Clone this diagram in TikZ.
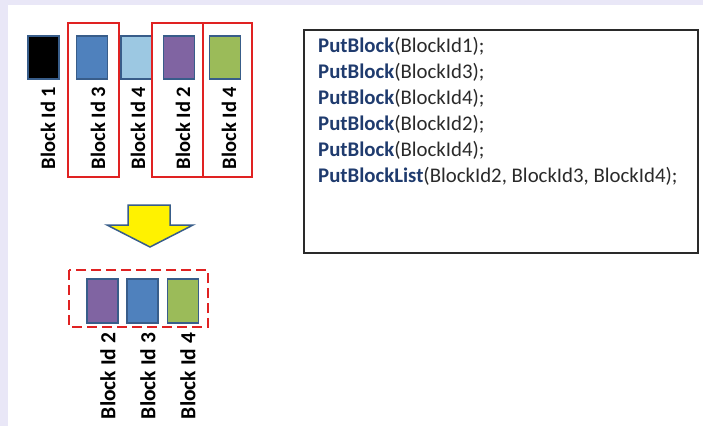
\documentclass[tikz,border=0pt]{standalone}
\usepackage{fontspec}
\setmainfont{Carlito}
\usetikzlibrary{positioning}
\definecolor{lav}{HTML}{E9E7F7}
\definecolor{bordc}{HTML}{385D8A}
\definecolor{cblack}{HTML}{000000}
\definecolor{cblue}{HTML}{4F81BD}
\definecolor{clblue}{HTML}{9CC8E2}
\definecolor{cpurple}{HTML}{8064A2}
\definecolor{cgreen}{HTML}{9BBB59}
\definecolor{rred}{HTML}{E02222}
\definecolor{navy}{HTML}{1F3B6E}
\definecolor{codegray}{HTML}{2A2A2A}
\tikzset{
  blk/.style={draw=bordc, line width=1.6pt, inner sep=0pt, minimum width=31pt, minimum height=43pt},
  lbl/.style={rotate=90, inner sep=0pt, font=\fontsize{20.5}{24}\selectfont\bfseries},
  lblb/.style={rotate=90, inner sep=0pt, font=\fontsize{21.5}{24}\selectfont\bfseries},
  redbox/.style={draw=rred, line width=2pt},
  dashbox/.style={draw=rred, line width=2.5pt, dash pattern=on 10pt off 5pt},
  codeline/.style={anchor=base west, inner sep=0pt, text=codegray, font=\fontsize{20.8}{24}\selectfont},
}
\newcommand{\kw}[1]{\textcolor{navy}{\bfseries #1}}
\begin{document}
\begin{tikzpicture}[x=1pt,y=-1pt]
\useasboundingbox (0,0) rectangle (703,426);
\fill[white] (0,0) rectangle (703,426);
\fill[lav] (0,0) rectangle (703,5);
\fill[lav] (0,0) rectangle (8,426);

% top row blocks
\node[blk, fill=cblack] (b1) at (43.5,57.5) {};
\node[blk, fill=cblue] (b3) at (92,57.5) {};
\node[blk, fill=clblue] (b4) at (136.5,57.5) {};
\node[blk, fill=cpurple] (b2) at (179,57.5) {};
\node[blk, fill=cgreen] (b4b) at (225,57.5) {};

% top labels
\node[lbl] (l1) at (48,128) {Block Id 1};
\node[lbl] (l3) at (98,128) {Block Id 3};
\node[lbl] (l4) at (138,128) {Block Id 4};
\node[lbl] (l2) at (183,128) {Block Id 2};
\node[lbl] (l4b) at (229,128) {Block Id 4};

% red boxes
\draw[redbox] (68,23) rectangle (119,177);
\draw[redbox] (152,23) rectangle (203,177);
\draw[redbox] (203,23) rectangle (252,177);

% yellow arrow
\draw[fill=yellow, draw=bordc, line width=1.5pt, line join=miter]
  (128,205) -- (170,205) -- (170,225) -- (193,225) -- (150,247) -- (107,225) -- (128,225) -- cycle;

% bottom blocks
\node[blk, fill=cpurple, minimum height=44pt] (m2) at (102.5,301) {};
\node[blk, fill=cblue, minimum height=44pt] (m3) at (142.5,301) {};
\node[blk, fill=cgreen, minimum height=44pt] (m4) at (183,301) {};
\draw[dashbox] (69,270) rectangle (208,327);

% bottom labels
\node[lblb] (n2) at (108,376) {Block Id 2};
\node[lblb] (n3) at (148,376) {Block Id 3};
\node[lblb] (n4) at (188,376) {Block Id 4};

% code box
\draw[draw=codegray, line width=1.5pt, fill=white] (304,30) rectangle (698,253);
\node[codeline] (c1) at (318,52) {\kw{PutBlock}(BlockId1);};
\node[codeline] (c2) at (318,78) {\kw{PutBlock}(BlockId3);};
\node[codeline] (c3) at (318,104) {\kw{PutBlock}(BlockId4);};
\node[codeline] (c4) at (318,130) {\kw{PutBlock}(BlockId2);};
\node[codeline] (c5) at (318,156) {\kw{PutBlock}(BlockId4);};
\node[codeline] (c6) at (318,182) {\kw{PutBlockList}(BlockId2, BlockId3, BlockId4);};
\end{tikzpicture}
\end{document}
